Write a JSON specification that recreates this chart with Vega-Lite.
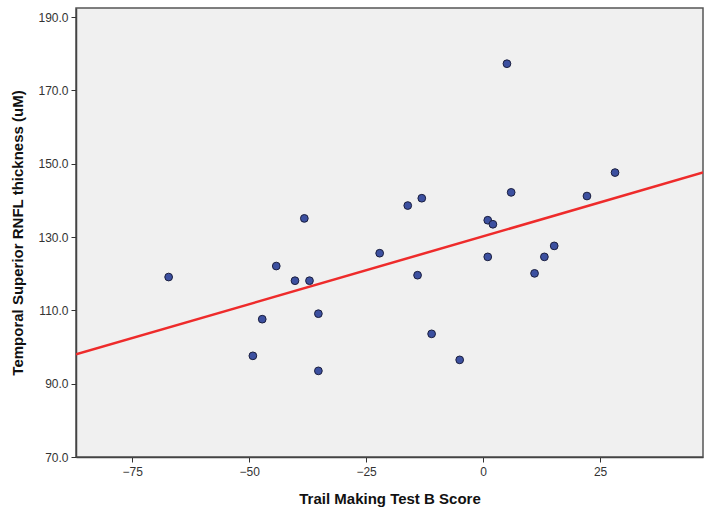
{
  "$schema": "https://vega.github.io/schema/vega-lite/v6.json",
  "width": 627,
  "height": 449,
  "autosize": {"type": "none"},
  "padding": {"left": 76, "top": 8, "right": 10, "bottom": 60},
  "background": "white",
  "config": {
    "view": {"fill": "#f0f0f0", "stroke": "#555555", "strokeWidth": 1.5, "strokeOpacity": 1},
    "font": "Liberation Sans",
    "axis": {
      "labelFont": "Liberation Sans",
      "labelFontSize": 12,
      "labelColor": "#333333",
      "titleFont": "Liberation Sans",
      "titleFontSize": 15,
      "titleFontWeight": "bold",
      "titleColor": "#111111",
      "tickColor": "#333333",
      "tickSize": 5,
      "domainColor": "#444444",
      "grid": false,
      "zindex": 1
    }
  },
  "datasets": {
    "pts": [
      {"tmt": -67.2, "rnfl": 119.1},
      {"tmt": -44.2, "rnfl": 122.1},
      {"tmt": -40.2, "rnfl": 118.1},
      {"tmt": -37.1, "rnfl": 118.1},
      {"tmt": -47.2, "rnfl": 107.6},
      {"tmt": -35.2, "rnfl": 109.1},
      {"tmt": -49.2, "rnfl": 97.6},
      {"tmt": -35.2, "rnfl": 93.5},
      {"tmt": -38.2, "rnfl": 135.1},
      {"tmt": 5.1, "rnfl": 177.3},
      {"tmt": 28.2, "rnfl": 147.6},
      {"tmt": 6.0, "rnfl": 142.2},
      {"tmt": 22.2, "rnfl": 141.2},
      {"tmt": -13.1, "rnfl": 140.6},
      {"tmt": -16.1, "rnfl": 138.6},
      {"tmt": 1.0, "rnfl": 134.6},
      {"tmt": 2.1, "rnfl": 133.5},
      {"tmt": 15.2, "rnfl": 127.6},
      {"tmt": -22.1, "rnfl": 125.6},
      {"tmt": 1.0, "rnfl": 124.6},
      {"tmt": 13.1, "rnfl": 124.6},
      {"tmt": -14.0, "rnfl": 119.6},
      {"tmt": 11.0, "rnfl": 120.1},
      {"tmt": -11.0, "rnfl": 103.6},
      {"tmt": -5.0, "rnfl": 96.5}
    ],
    "fit": [
      {"tmt": -87, "rnfl": 98.0},
      {"tmt": 47, "rnfl": 147.6}
    ]
  },
  "layer": [
    {
      "data": {"name": "fit"},
      "mark": {"type": "line", "color": "#ee2b2b", "strokeWidth": 2.5, "clip": true},
      "encoding": {
        "x": {"field": "tmt", "type": "quantitative"},
        "y": {"field": "rnfl", "type": "quantitative"}
      }
    },
    {
      "data": {"name": "pts"},
      "mark": {"type": "point", "filled": true, "shape": "circle", "size": 60, "fill": "#3c50a0", "stroke": "#1b1f3f", "strokeWidth": 1, "opacity": 1, "fillOpacity": 1, "strokeOpacity": 1},
      "encoding": {
        "x": {
          "field": "tmt", "type": "quantitative",
          "title": "Trail Making Test B Score",
          "scale": {"domain": [-87, 47], "nice": false, "zero": false},
          "axis": {"values": [-75, -50, -25, 0, 25], "titlePadding": 14, "labelPadding": 4, "domain": true, "domainWidth": 1.5}
        },
        "y": {
          "field": "rnfl", "type": "quantitative",
          "title": "Temporal Superior RNFL thickness (uM)",
          "scale": {"domain": [70, 192.5], "nice": false, "zero": false},
          "axis": {"values": [70, 90, 110, 130, 150, 170, 190], "format": ".1f", "titlePadding": 12, "labelPadding": 3, "domain": true, "domainWidth": 1.5}
        }
      }
    }
  ]
}
